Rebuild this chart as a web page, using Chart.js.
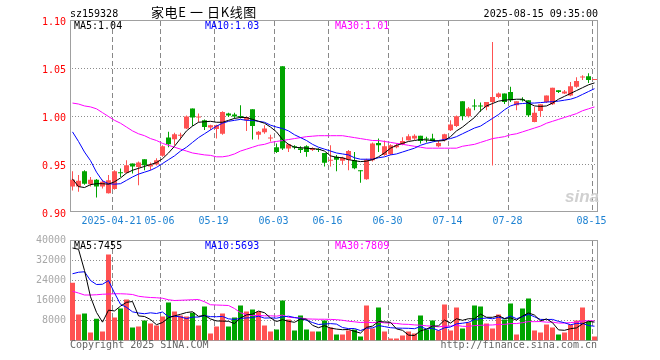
<!DOCTYPE html>
<html><head><meta charset="utf-8">
<script src="https://cdn.jsdelivr.net/npm/chart.js@4.4.1/dist/chart.umd.min.js"></script>
<style>
html,body{margin:0;padding:0;background:#fff;}
#wrap{position:relative;width:660px;height:360px;overflow:hidden;background:#fff;}
canvas{position:absolute;left:0;top:0;}
.t{position:absolute;font-family:'DejaVu Sans Mono',monospace;font-size:10px;line-height:12px;white-space:pre;}
.title{position:absolute;font-family:'Noto Sans CJK SC',sans-serif;font-size:13px;line-height:15px;white-space:pre;color:#000;letter-spacing:0.6px;}
.logo{position:absolute;font-family:'Liberation Sans',sans-serif;font-style:italic;font-weight:bold;font-size:17px;line-height:18px;color:#d0d0d0;}
</style></head><body>
<div id="wrap">
<canvas id="price" width="660" height="360"></canvas>
<canvas id="vol" width="660" height="360"></canvas>
<div class="t" style="left:70px;top:8px;color:#000">sz159328</div>
<div class="title" style="left:151px;top:4px">家电E 一 日K线图</div>
<div class="t" style="right:62px;top:8px;color:#000">2025-08-15 09:35:00</div>
<div class="t" style="left:74px;top:20px;color:#000">MA5:1.04</div>
<div class="t" style="left:205px;top:20px;color:#0000ff">MA10:1.03</div>
<div class="t" style="left:335px;top:20px;color:#ff00ff">MA30:1.01</div>
<div class="t" style="left:74px;top:240px;color:#000">MA5:7455</div>
<div class="t" style="left:205px;top:240px;color:#0000ff">MA10:5693</div>
<div class="t" style="left:335px;top:240px;color:#ff00ff">MA30:7809</div>
<div class="t" style="left:70px;top:339px;color:#666">Copyright 2025 SINA.COM</div>
<div class="t" style="right:63px;top:339px;color:#666">http://finance.sina.com.cn</div>
<div class="logo" style="left:565px;top:188px">sina</div>
</div>
<script>
const categories = [
'2025-04-10','2025-04-11','2025-04-14','2025-04-15','2025-04-16','2025-04-17','2025-04-18',
'2025-04-21','2025-04-22','2025-04-23','2025-04-24','2025-04-25','2025-04-28','2025-04-29','2025-04-30',
'2025-05-06','2025-05-07','2025-05-08','2025-05-09','2025-05-12','2025-05-13','2025-05-14','2025-05-15','2025-05-16',
'2025-05-19','2025-05-20','2025-05-21','2025-05-22','2025-05-23','2025-05-26','2025-05-27','2025-05-28','2025-05-29','2025-05-30',
'2025-06-03','2025-06-04','2025-06-05','2025-06-06','2025-06-09','2025-06-10','2025-06-11','2025-06-12','2025-06-13',
'2025-06-16','2025-06-17','2025-06-18','2025-06-19','2025-06-20','2025-06-23','2025-06-24','2025-06-25','2025-06-26','2025-06-27',
'2025-06-30','2025-07-01','2025-07-02','2025-07-03','2025-07-04','2025-07-07','2025-07-08','2025-07-09','2025-07-10','2025-07-11',
'2025-07-14','2025-07-15','2025-07-16','2025-07-17','2025-07-18','2025-07-21','2025-07-22','2025-07-23','2025-07-24','2025-07-25',
'2025-07-28','2025-07-29','2025-07-30','2025-07-31','2025-08-01','2025-08-04','2025-08-05','2025-08-06','2025-08-07','2025-08-08',
'2025-08-11','2025-08-12','2025-08-13','2025-08-14','2025-08-15'];

const tickDates = ['2025-04-21','2025-05-06','2025-05-19','2025-06-03','2025-06-16','2025-06-30','2025-07-14','2025-07-28','2025-08-15'];
const tickTexts = ['2025-04-21','05-06','05-19','06-03','06-16','06-30','07-14','07-28','08-15'];

const opens = [0.927,0.927,0.943,0.9295,0.934,0.927,0.920,0.9246,0.942,0.9413,
0.951,0.9475,0.9555,0.948,0.950,0.959,0.978,0.9764,0.980,0.9875,
1.0083,0.999,0.996,0.9885,0.987,0.982,1.003,1.002,1.000,0.996,
1.0076,0.981,0.9836,0.977,0.968,1.0524,0.9667,0.969,0.967,0.969,
0.965,0.9655,0.962,0.954,0.958,0.954,0.955,0.9545,0.9435,0.9347,
0.9545,0.9725,0.960,0.9607,0.968,0.971,0.9753,0.977,0.980,0.9765,
0.977,0.969,0.9753,0.9857,0.990,1.016,1.0003,1.011,1.011,1.010,
1.015,1.0204,1.024,1.0256,1.0118,1.0175,1.017,0.9944,1.0058,1.015,
1.0128,1.0274,1.024,1.022,1.031,1.0405,1.042,1.038];
const closes = [0.934,0.933,0.930,0.934,0.927,0.932,0.9336,0.943,0.941,0.9493,
0.948,0.952,0.9493,0.950,0.9545,0.969,0.971,0.9816,0.981,1.000,
0.999,1.000,0.989,0.991,0.991,1.0048,1.001,1.000,0.9995,0.9996,
0.990,0.984,0.9875,0.9775,0.963,0.9667,0.971,0.9677,0.965,0.963,
0.967,0.965,0.9517,0.9545,0.955,0.957,0.964,0.946,0.943,0.955,
0.972,0.970,0.969,0.970,0.970,0.9746,0.9795,0.980,0.9746,0.976,
0.9746,0.9725,0.9816,0.9917,1.0003,1.0003,1.0083,1.0105,1.0105,1.015,
1.0204,1.024,1.015,1.017,1.016,1.017,1.0014,1.0038,1.0128,1.022,
1.030,1.0256,1.026,1.0316,1.037,1.041,1.038,1.0385];
const highs = [0.943,0.939,0.944,0.937,0.935,0.934,0.939,0.944,0.9458,0.9545,
0.951,0.953,0.9555,0.952,0.9565,0.970,0.984,0.983,0.983,1.001,
1.0083,1.003,0.997,0.9915,0.9915,1.0055,1.004,1.004,1.0118,1.000,
1.0076,0.985,0.991,0.981,0.972,1.0524,0.9715,0.970,0.969,0.970,
0.968,0.967,0.962,0.970,0.960,0.958,0.965,0.963,0.944,0.956,
0.973,0.977,0.975,0.971,0.972,0.9785,0.9815,0.9815,0.980,0.979,
0.982,0.975,0.982,0.996,1.001,1.016,1.010,1.018,1.0145,1.015,
1.0777,1.025,1.024,1.031,1.016,1.020,1.017,1.010,1.0128,1.022,
1.030,1.0274,1.0275,1.036,1.041,1.043,1.045,1.039];
const lows = [0.923,0.9215,0.929,0.927,0.9156,0.925,0.9198,0.9236,0.937,0.9405,
0.9406,0.9284,0.944,0.944,0.949,0.958,0.968,0.970,0.976,0.987,
0.990,0.994,0.986,0.986,0.977,0.981,0.9995,0.998,0.998,0.985,
0.976,0.976,0.982,0.974,0.962,0.965,0.963,0.966,0.962,0.958,
0.964,0.963,0.948,0.948,0.943,0.950,0.944,0.945,0.931,0.934,
0.953,0.963,0.959,0.960,0.967,0.970,0.975,0.9755,0.972,0.973,
0.974,0.968,0.974,0.985,0.989,0.996,0.999,1.0066,1.005,1.0066,
0.949,1.019,1.013,1.015,1.0066,1.0155,0.9996,0.994,0.9996,1.014,
1.012,1.0245,1.0235,1.021,1.030,1.038,1.035,1.038];

const ma5 = [0.935,0.927,0.926,0.929,0.930,0.930,0.9295,0.932,0.936,0.941,
0.944,0.946,0.948,0.950,0.952,0.956,0.962,0.969,0.977,0.985,
0.990,0.994,0.9945,0.995,0.994,0.994,0.996,0.998,0.999,0.999,
0.997,0.995,0.993,0.989,0.984,0.976,0.971,0.968,0.9675,0.967,
0.9665,0.966,0.964,0.959,0.9575,0.957,0.955,0.954,0.953,0.9535,
0.955,0.958,0.962,0.967,0.970,0.972,0.974,0.975,0.976,0.9755,
0.975,0.9745,0.975,0.979,0.985,0.989,0.994,0.999,1.006,1.011,
1.0135,1.016,1.017,1.0175,1.018,1.018,1.014,1.011,1.0105,1.011,
1.014,1.018,1.021,1.024,1.027,1.030,1.033,1.035];
const ma10 = [0.984,0.974,0.963,0.954,0.942,0.933,0.930,0.9295,0.930,0.9335,
0.937,0.940,0.942,0.944,0.947,0.951,0.955,0.959,0.964,0.968,
0.973,0.978,0.982,0.986,0.990,0.993,0.995,0.996,0.997,0.996,
0.996,0.995,0.994,0.991,0.989,0.9875,0.985,0.981,0.978,0.975,
0.971,0.968,0.966,0.964,0.962,0.961,0.960,0.957,0.9555,0.9555,
0.9555,0.957,0.958,0.960,0.961,0.963,0.965,0.967,0.970,0.972,
0.9735,0.975,0.976,0.977,0.979,0.982,0.985,0.988,0.990,0.994,
0.998,1.002,1.007,1.011,1.013,1.0135,1.014,1.014,1.0145,1.015,
1.0155,1.016,1.017,1.018,1.020,1.023,1.026,1.029];
const ma30 = [1.014,1.013,1.011,1.010,1.008,1.004,1.000,0.996,0.993,0.989,
0.985,0.982,0.980,0.977,0.975,0.972,0.970,0.968,0.966,0.964,
0.962,0.961,0.960,0.9595,0.958,0.958,0.959,0.961,0.964,0.966,
0.968,0.970,0.971,0.973,0.974,0.975,0.976,0.977,0.978,0.979,
0.9795,0.980,0.980,0.980,0.980,0.980,0.979,0.978,0.977,0.976,
0.975,0.975,0.974,0.973,0.972,0.971,0.970,0.969,0.968,0.967,
0.967,0.967,0.967,0.967,0.967,0.969,0.970,0.971,0.973,0.975,
0.977,0.978,0.979,0.981,0.982,0.984,0.986,0.988,0.990,0.993,
0.995,0.997,0.999,1.001,1.003,1.006,1.008,1.010];

const volumes = [23100,10400,10800,3200,8700,3600,34400,9200,12800,16400,
5200,5600,8000,6800,6000,9600,15200,11600,10000,9600,
11100,6000,13600,2800,5600,10800,5600,9200,14000,11600,
12400,11600,6000,3600,4400,16000,8400,4000,10000,4400,
3600,3600,8000,5200,2400,2400,4000,4400,1600,14000,
4800,13200,3600,800,800,2000,3600,2800,10000,4400,
8000,4000,14400,4000,13200,4800,7200,14000,13600,6800,
4800,10400,8400,14800,2400,12800,16800,4000,3200,6400,
5200,2400,3200,6400,8000,13200,7600,1600];
const vma5 = [37000,36500,28000,17500,11240,7340,12140,11820,13740,15280,
15600,9840,9600,8400,6320,7200,9120,9840,10480,11200,
11500,9660,10060,8620,7820,7760,7680,6800,9040,10240,
10560,11760,11120,9040,7600,8320,7680,7280,8560,8560,
6080,5120,5920,4960,4560,4320,4400,3680,2960,5280,
5760,7600,7440,7280,4640,4080,2160,2000,3840,4560,
5760,5840,8160,6960,8720,8080,8720,8640,10560,9280,
9280,9920,8800,9040,8160,9760,11040,10160,7840,8640,
7120,4240,4080,4720,5040,6640,7680,7360];
const vma10 = [26700,27300,27500,24000,22400,22500,24000,19000,14500,13260,
11470,10990,10710,11070,10800,11400,9480,9720,9440,8760,
9350,9390,9950,9550,9510,9630,8670,8430,8830,9030,
9160,9720,8960,9040,8920,9440,9720,9200,8800,8080,
7200,6400,6600,6760,6560,5200,4760,4800,3960,4920,
5040,6000,5560,5120,4960,4920,4880,4720,5560,4600,
4920,4000,5080,5400,6640,6920,7280,8400,8760,9000,
8680,9320,8720,9800,8720,9520,10480,9480,8440,8400,
8440,7640,7120,6280,6840,6880,5960,5720];
const vma30 = [19700,19000,18200,18200,18300,18500,18600,18700,18700,18600,
18400,17700,17400,17200,17100,16900,16300,16000,16100,16200,
16300,16400,15500,14300,14200,14100,14000,12800,11100,10350,
9993,10033,9873,9887,9743,10157,9290,9117,9023,8623,
8570,8503,8503,8450,8330,8090,7717,7477,7197,7343,
7133,7373,7040,6973,6813,6520,6453,6240,6107,5867,
5720,5467,5747,5760,6053,5680,5640,5973,6093,6173,
6213,6440,6453,6773,6773,7120,7547,7533,7587,7333,
7347,6987,6973,7160,7400,7773,7907,7867];

const priceTicks = [0.90, 0.95, 1.00, 1.05, 1.10];
const volTicks = [0, 8000, 16000, 24000, 32000, 40000];

const RED = '#ff5252', GREEN = '#00a400';
const candleColors = opens.map((o, i) => closes[i] >= o ? RED : GREEN);
const MONO = "'DejaVu Sans Mono', monospace";

const gridPlugin = {
  id: 'panelGrid',
  beforeDatasetsDraw(chart) {
    const ctx = chart.ctx, a = chart.chartArea, y = chart.scales.y, x = chart.scales.x;
    const cfg = chart.options.plugins.panelGrid;
    const top = Math.round(a.top - 0.5);
    const bottom = Math.round(a.bottom - 0.5) - (cfg.bottomShift || 0);
    const left = Math.round(a.left);
    const right = Math.round(a.right - 0.5);
    ctx.save();
    // dotted horizontal grid lines (1 on, 2 off)
    ctx.fillStyle = '#8c8c8c';
    cfg.hValues.forEach(v => {
      const py = Math.round(y.getPixelForValue(v) - 0.5);
      for (let px = left + 2; px < right; px += 3) ctx.fillRect(px, py, 1, 1);
    });
    // dashed vertical grid lines at the labelled dates (5 on, 3 off)
    ctx.fillStyle = '#888888';
    for (let k = 0; k < tickDates.length; k++) {
      const px = Math.floor(x.getPixelForValue(categories.indexOf(tickDates[k])) - 2.5);
      for (let py = top + 1; py < bottom; py += 8) {
        ctx.fillRect(px, py, 1, Math.min(5, bottom - py));
      }
    }
    // panel frame
    ctx.fillStyle = '#a0a0a0';
    ctx.fillRect(left, top, right - left + 1, 1);
    ctx.fillRect(left, bottom, right - left + 1, 1);
    ctx.fillRect(left, top, 1, bottom - top + 1);
    ctx.fillRect(right, top, 1, bottom - top + 1);
    ctx.restore();
  }
};

function bar(label, data, thick, colors, extra) {
  return Object.assign({type: 'bar', label, data, backgroundColor: colors, borderWidth: 0,
    barThickness: thick, grouped: false, inflateAmount: 0}, extra || {});
}
function line(label, data, color) {
  return {type: 'line', label, data, borderColor: color, borderWidth: 1, pointRadius: 0,
    tension: 0, fill: false, order: 0};
}

new Chart(document.getElementById('price'), {
  type: 'bar',
  data: {
    labels: categories,
    datasets: [
      line('MA5', ma5, '#000000'),
      line('MA10', ma10, '#0000ff'),
      line('MA30', ma30, '#ff00ff'),
      bar('body', opens.map((o, i) => [Math.min(o, closes[i]), Math.max(o, closes[i])]), 5, candleColors, {order: 1, minBarLength: 1}),
      bar('wick', lows.map((l, i) => [l, highs[i]]), 1, candleColors, {order: 2})
    ]
  },
  options: {
    responsive: false, animation: false,
    layout: {padding: {left: 0, top: 20.5, right: 62.5, bottom: 128}},
    plugins: {legend: {display: false}, tooltip: {enabled: false},
      panelGrid: {hValues: priceTicks.slice(1, -1), bottomShift: 1}},
    scales: {
      x: {type: 'category', offset: true,
        grid: {display: false, drawTicks: false}, border: {display: false},
        ticks: {autoSkip: false, maxRotation: 0, minRotation: 0, color: '#1e82d2', padding: 3, labelOffset: -3,
          font: {family: MONO, size: 10},
          callback: function (v, i) { const k = tickDates.indexOf(categories[i]); return k >= 0 ? tickTexts[k] : ''; }},
        afterFit: s => { s.height = 19.5; }},
      y: {type: 'linear', position: 'left', min: priceTicks[0], max: priceTicks[priceTicks.length - 1],
        grid: {display: false, drawTicks: false}, border: {display: false},
        afterBuildTicks: s => { s.ticks = priceTicks.map(v => ({value: v})); },
        ticks: {color: '#ff0000', padding: 3.5, labelOffset: 1.5, font: {family: MONO, size: 10},
          callback: v => Number(v).toFixed(2)},
        afterFit: s => { s.width = 69.5; }}
    }
  },
  plugins: [gridPlugin]
});

new Chart(document.getElementById('vol'), {
  type: 'bar',
  data: {
    labels: categories,
    datasets: [
      line('MA5', vma5, '#000000'),
      line('MA10', vma10, '#0000ff'),
      line('MA30', vma30, '#ff00ff'),
      bar('volume', volumes, 5, candleColors, {order: 1})
    ]
  },
  options: {
    responsive: false, animation: false,
    layout: {padding: {left: 0, top: 240.5, right: 62.5, bottom: 19.5}},
    plugins: {legend: {display: false}, tooltip: {enabled: false},
      panelGrid: {hValues: volTicks.slice(1, -1), bottomShift: 0}},
    scales: {
      x: {type: 'category', offset: true, display: false},
      y: {type: 'linear', position: 'left', min: 0, max: volTicks[volTicks.length - 1],
        grid: {display: false, drawTicks: false}, border: {display: false},
        afterBuildTicks: s => { s.ticks = volTicks.map(v => ({value: v})); },
        ticks: {color: '#a8a8a8', padding: 3.5, font: {family: MONO, size: 10},
          callback: v => v === 0 ? '' : String(v)},
        afterFit: s => { s.width = 69.5; }}
    }
  },
  plugins: [gridPlugin]
});
</script>
</body></html>
